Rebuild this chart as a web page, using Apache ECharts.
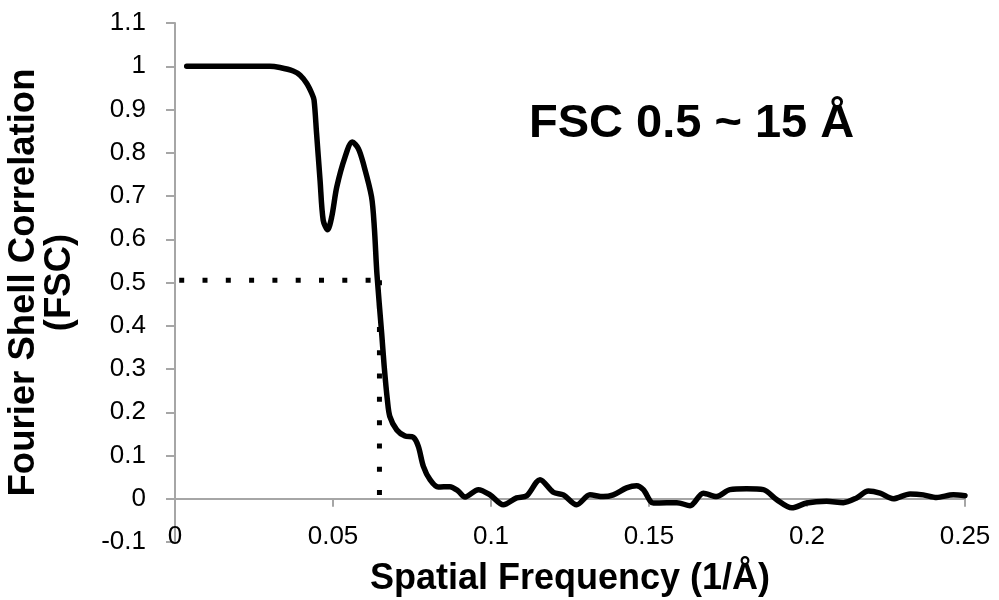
<!DOCTYPE html>
<html>
<head>
<meta charset="utf-8">
<script src="https://cdn.jsdelivr.net/npm/echarts@6/dist/echarts.min.js"></script>
<style>html,body{margin:0;padding:0;background:#fff}#c{width:999px;height:600px}</style>
</head>
<body>
<div id="c"></div>
<script>
const xTicks = ['0', '0.05', '0.1', '0.15', '0.2', '0.25'];
const fscX = [0.0037, 0.010, 0.020, 0.030, 0.0332, 0.0374, 0.0396, 0.0417, 0.0433, 0.0440, 0.0448, 0.0459, 0.0469, 0.0483, 0.0496, 0.0512, 0.0538, 0.0561, 0.0580, 0.0596, 0.0622, 0.0631, 0.0639, 0.0654, 0.0662, 0.0672, 0.0680, 0.0702, 0.0728, 0.0754, 0.0770, 0.0786, 0.0807, 0.0833, 0.0870, 0.0896, 0.0918, 0.0960, 0.0997, 0.1039, 0.1081, 0.1113, 0.1155, 0.1197, 0.1229, 0.1271, 0.1313, 0.1355, 0.1387, 0.1429, 0.1461, 0.1482, 0.1514, 0.1556, 0.1588, 0.1630, 0.1672, 0.1714, 0.1756, 0.1809, 0.1862, 0.1904, 0.1952, 0.1999, 0.2062, 0.2115, 0.2157, 0.2194, 0.2231, 0.2273, 0.2326, 0.2368, 0.2410, 0.2463, 0.2500];
const fscY = [1.000, 1.000, 1.000, 1.000, 0.997, 0.989, 0.979, 0.960, 0.937, 0.922, 0.845, 0.737, 0.644, 0.622, 0.652, 0.721, 0.790, 0.825, 0.810, 0.775, 0.698, 0.625, 0.520, 0.383, 0.306, 0.229, 0.190, 0.159, 0.145, 0.142, 0.121, 0.075, 0.044, 0.027, 0.028, 0.018, 0.004, 0.021, 0.009, -0.014, 0.002, 0.007, 0.044, 0.015, 0.009, -0.014, 0.009, 0.005, 0.009, 0.025, 0.030, 0.021, -0.010, -0.009, -0.009, -0.016, 0.013, 0.005, 0.021, 0.023, 0.021, -0.002, -0.021, -0.010, -0.006, -0.009, 0.002, 0.018, 0.013, 0.000, 0.011, 0.009, 0.003, 0.009, 0.007];
const cutoffX = 0.0647;
const cutoffY = 0.505;
const hGuide = [[0, cutoffY], [cutoffX, cutoffY]];
const vGuide = [[cutoffX, cutoffY], [cutoffX, 0]];
const yMin = -0.1, yMax = 1.1;

const FONT = "'Liberation Sans', Arial, sans-serif";
const GRID = {left: 175, right: 34, top: 23, bottom: 58};
const gridH = 600 - GRID.top - GRID.bottom;
// x-axis drawn at y = 0 (moved up from the grid bottom)
const xAxisOffset = -gridH * (0 - yMin) / (yMax - yMin);

const chart = echarts.init(document.getElementById('c'), null, {renderer: 'canvas'});
chart.setOption({
  animation: false,
  backgroundColor: '#fff',
  title: {
    text: 'FSC 0.5 ~ 15 Å', left: 529, top: 101, padding: 0,
    textStyle: {fontFamily: FONT, fontSize: 47, fontWeight: 'bold', color: '#000'}
  },
  grid: Object.assign({outerBoundsMode: 'none', containLabel: false}, GRID),
  xAxis: {
    type: 'value', min: 0, max: 0.25, interval: 0.05,
    offset: xAxisOffset,
    name: 'Spatial Frequency (1/Å)', nameLocation: 'middle', nameGap: 62,
    nameTextStyle: {fontFamily: FONT, fontSize: 36, fontWeight: 'bold', color: '#000'},
    axisLine: {onZero: false, lineStyle: {color: '#a6a6a6', width: 2}},
    axisTick: {show: true, inside: false, length: 8, lineStyle: {color: '#a6a6a6', width: 2}},
    axisLabel: {fontFamily: FONT, fontSize: 26, color: '#000', margin: 25,
      formatter: (v) => { const i = Math.round(v / 0.05); return xTicks[i] !== undefined ? xTicks[i] : ''; }},
    splitLine: {show: false}
  },
  yAxis: {
    type: 'value', min: yMin, max: yMax, interval: 0.1,
    name: 'Fourier Shell Correlation\n(FSC)', nameLocation: 'middle', nameRotate: 90, nameGap: 97,
    nameTextStyle: {fontFamily: FONT, fontSize: 36.5, fontWeight: 'bold', color: '#000', lineHeight: 36},
    axisLine: {show: true, onZero: false, lineStyle: {color: '#a6a6a6', width: 2}},
    axisTick: {show: true, inside: false, length: 9, lineStyle: {color: '#a6a6a6', width: 2}},
    axisLabel: {fontFamily: FONT, fontSize: 26, color: '#000', margin: 29,
      formatter: (v) => String(Math.round(v * 10) / 10)},
    splitLine: {show: false}
  },
  series: [
    {
      type: 'line', data: hGuide, symbol: 'none', silent: true,
      lineStyle: {color: '#000', width: 5, type: [5, 18.3], dashOffset: 19.1, cap: 'butt'}
    },
    {
      type: 'line', data: vGuide, symbol: 'none', silent: true,
      lineStyle: {color: '#000', width: 5, type: [5, 18.3], cap: 'butt'}
    },
    {
      type: 'line', data: fscX.map((x, i) => [x, fscY[i]]), symbol: 'none', smooth: 0.3,
      lineStyle: {color: '#000', width: 5.5, cap: 'round', join: 'round'}
    }
  ]
});
</script>
</body>
</html>
